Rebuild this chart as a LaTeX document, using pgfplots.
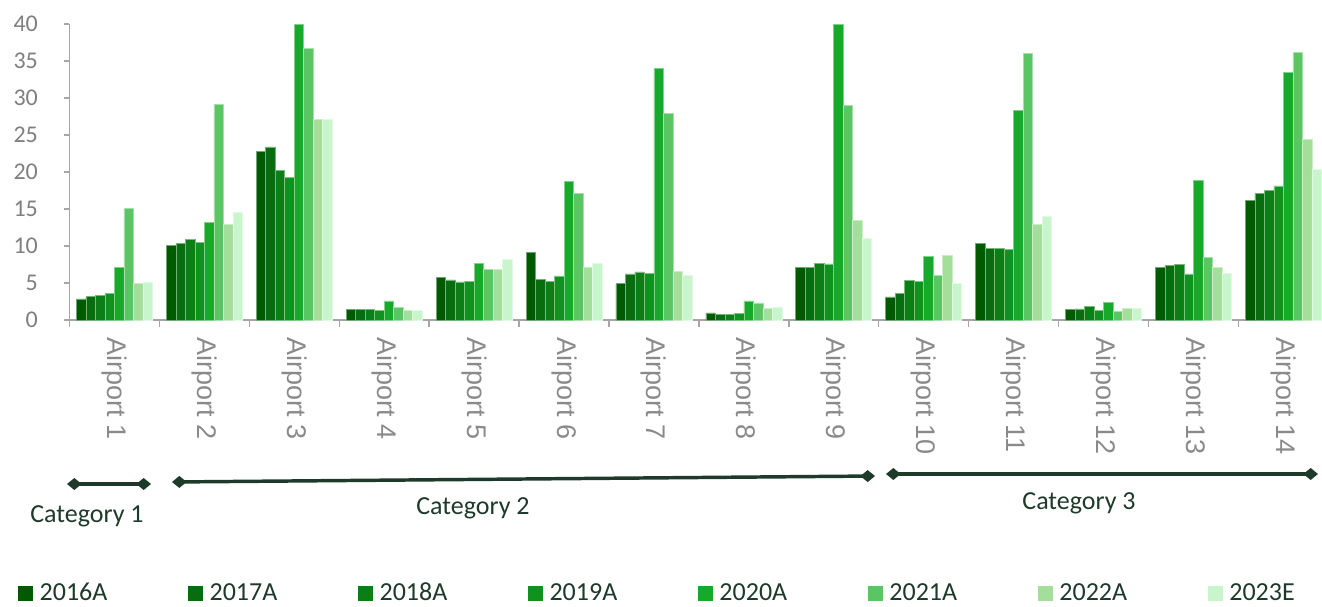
\documentclass[border=0pt]{standalone}
\usepackage{fontspec}
\setmainfont{Carlito}
\newfontfamily\arialf{Liberation Sans}
\usepackage{pgfplots}
\pgfplotsset{compat=1.18}
\usepackage{pgfplotstable}
\usetikzlibrary{arrows.meta}

\definecolor{cA}{HTML}{005A00}
\definecolor{cB}{HTML}{076D0E}
\definecolor{cC}{HTML}{0B7F16}
\definecolor{cD}{HTML}{10931E}
\definecolor{cE}{HTML}{17A929}
\definecolor{cF}{HTML}{5CC563}
\definecolor{cG}{HTML}{A4DE9B}
\definecolor{cH}{HTML}{C8F5CC}
\definecolor{axisgray}{HTML}{A6A6A6}
\definecolor{ylabgray}{HTML}{7F7F7F}
\definecolor{xlabgray}{HTML}{8A8A8A}
\definecolor{catcol}{HTML}{1E3A2A}

\pgfplotstableread{
x  a     b     c     d     e     f     g     h
0  2.84  3.15  3.34  3.60  7.12  15.04 4.96  5.14
1  10.04 10.32 10.90 10.45 13.24 29.14 12.97 14.50
2  22.75 23.38 20.27 19.28 40.00 36.67 27.16 27.16
3  1.44  1.42  1.42  1.31  2.57  1.71  1.30  1.30
4  5.81  5.41  5.14  5.27  7.66  6.89  6.80  8.15
5  9.19  5.45  5.23  5.95  18.78 17.12 7.12  7.70
6  4.91  6.22  6.49  6.26  33.96 27.97 6.58  6.08
7  0.95  0.81  0.81  0.86  2.57  2.30  1.53  1.76
8  7.16  7.16  7.70  7.57  40.00 29.05 13.51 11.08
9  3.11  3.60  5.36  5.27  8.60  5.99  8.78  4.91
10 10.32 9.64  9.73  9.59  28.33 36.03 12.97 14.05
11 1.40  1.49  1.80  1.31  2.39  1.13  1.53  1.58
12 7.07  7.34  7.52  6.22  18.87 8.47  7.07  6.35
13 16.13 17.07 17.52 18.11 33.51 36.17 24.41 20.36
}\datatable

\begin{document}
\begin{tikzpicture}
\begin{axis}[
  at={(52.125pt,-240pt)}, anchor=south west,
  scale only axis, width=939.375pt, height=222pt,
  xmin=-0.5, xmax=13.43, ymin=0, ymax=40,
  axis lines*=left,
  axis line style={draw=axisgray, line width=1.1pt},
  ybar=0pt, bar width=7.125pt,
  tick align=outside,
  xtick={0,...,13},
  xticklabels={Airport 1,Airport 2,Airport 3,Airport 4,Airport 5,Airport 6,Airport 7,Airport 8,Airport 9,Airport 10,Airport 11,Airport 12,Airport 13,Airport 14},
  minor xtick={-0.5,0.5,...,12.5},
  major x tick style={draw=none},
  minor x tick style={draw=axisgray, line width=1.1pt},
  minor tick length=5.25pt,
  ytick={0,5,...,40},
  major y tick style={draw=axisgray, line width=1.1pt},
  major tick length=4.5pt,
  /pgf/number format/assume math mode=true,
  yticklabel style={font=\fontsize{18}{20}\selectfont, text=ylabgray, anchor=east, inner sep=0pt},
  yticklabel shift=19pt,
  xticklabel style={font=\arialf\fontsize{20.25}{22}\selectfont, text=xlabgray, rotate=-90, anchor=west, inner sep=0pt},
  xticklabel shift=8.25pt,
  legend style={at={(-0.0411,-0.9223)}, anchor=west, draw=none, fill=none,
    inner sep=0pt, outer sep=0pt, font=\fontsize{19.5}{21}\selectfont, text=catcol,
    /tikz/every odd column/.append style={column sep=5pt},
    /tikz/every even column/.append style={column sep=60.4pt},
    nodes={inner sep=0pt}},
  legend columns=8,
  legend image code/.code={\fill[#1, draw=none] (0pt,-5.625pt) rectangle (11.25pt,5.625pt);},
]
\addplot[fill=cA, draw=cA!55!white, line width=0.5pt] table[x=x,y=a] {\datatable};
\addplot[fill=cB, draw=cB!55!white, line width=0.5pt] table[x=x,y=b] {\datatable};
\addplot[fill=cC, draw=cC!55!white, line width=0.5pt] table[x=x,y=c] {\datatable};
\addplot[fill=cD, draw=cD!55!white, line width=0.5pt] table[x=x,y=d] {\datatable};
\addplot[fill=cE, draw=cE!55!white, line width=0.5pt] table[x=x,y=e] {\datatable};
\addplot[fill=cF, draw=cF!55!white, line width=0.5pt] table[x=x,y=f] {\datatable};
\addplot[fill=cG, draw=cG!55!white, line width=0.5pt] table[x=x,y=g] {\datatable};
\addplot[fill=cH, draw=cH!55!white, line width=0.5pt] table[x=x,y=h] {\datatable};
\legend{2016A,2017A,2018A,2019A,2020A,2021A,2022A,2023E}
\end{axis}
\begin{scope}[x=0.75pt, y=-0.75pt]
  \tikzset{catline/.style={draw=catcol, line width=2.6pt,
    {Diamond[length=11pt,width=9pt]}-{Diamond[length=11pt,width=9pt]}}}
  \draw[catline] (67,484) -- (151,484);
  \draw[catline] (172,482) -- (875,476);
  \draw[catline] (886,474) -- (1318,474);
  \node[font=\fontsize{19.5}{22}\selectfont, text=catcol] at (87,516) {Category 1};
  \node[font=\fontsize{19.5}{22}\selectfont, text=catcol] at (473,508) {Category 2};
  \node[font=\fontsize{19.5}{22}\selectfont, text=catcol] at (1079,503) {Category 3};
\end{scope}
\pgfresetboundingbox
\path[use as bounding box] (0pt,0pt) rectangle (991.5pt,-455.25pt);
\end{tikzpicture}
\end{document}
